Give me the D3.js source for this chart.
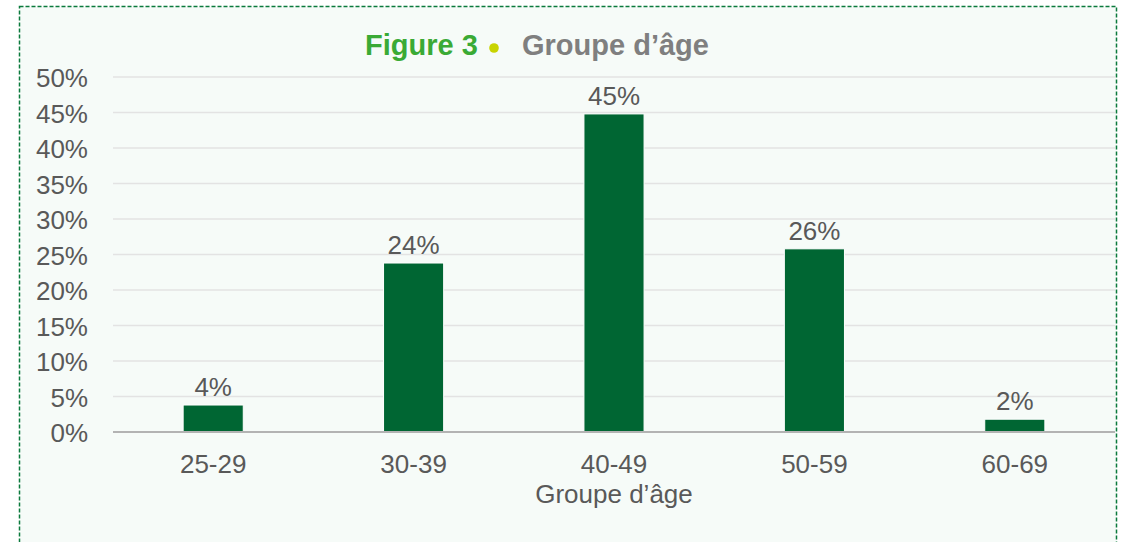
<!DOCTYPE html>
<html><head><meta charset="utf-8">
<script src="https://cdn.jsdelivr.net/npm/d3@7"></script>
<style>
html,body{margin:0;padding:0;background:#fff;}
svg{display:block;font-family:"Liberation Sans",Arial,sans-serif;}
</style></head>
<body>
<svg id="chart" width="1125" height="542"></svg>
<script>
const categories = ["25-29","30-39","40-49","50-59","60-69"];
const values = [3.8, 23.8, 44.8, 25.8, 1.8];
const valueLabels = ["4%","24%","45%","26%","2%"];
const yTicks = [0,5,10,15,20,25,30,35,40,45,50];
const titleParts = ["Figure 3", "Groupe d\u2019âge"];
const xAxisTitle = "Groupe d\u2019âge";

const FONT = "Liberation Sans, Arial, sans-serif";
const svg = d3.select("#chart");
// panel
svg.append("rect").attr("x",19.5).attr("y",6.5).attr("width",1097).attr("height",560)
  .attr("fill","#f6fbf8").attr("stroke","#0b7a3c").attr("stroke-width",1.5)
  .attr("stroke-dasharray","4,2");

const x = d3.scaleBand().domain(categories).range([113,1115]).paddingInner(0.7).paddingOuter(0.35);
const y = d3.scaleLinear().domain([0,50]).range([432,77]);

// gridlines
svg.append("g").selectAll("line").data(yTicks.filter(d=>d>0)).join("line")
  .attr("x1",113).attr("x2",1115).attr("y1",d=>y(d)).attr("y2",d=>y(d))
  .attr("stroke","#e3e3e3").attr("stroke-width",1.5);

// y axis labels
const yAxis = d3.axisLeft(y).tickValues(yTicks).tickFormat(d=>d+"%").tickSize(0).tickPadding(25);
const yg = svg.append("g").attr("transform","translate(113,0)").call(yAxis);
yg.select(".domain").remove();
yg.attr("font-size",null).attr("font-family",null);
yg.selectAll("text").attr("font-size",26).attr("fill","#595959").attr("font-family",FONT)
  .attr("dy",null).attr("dominant-baseline",null).attr("transform","translate(0,9.5)");

// bars
svg.append("g").selectAll("rect").data(values).join("rect")
  .attr("x",(d,i)=>x(categories[i])).attr("width",x.bandwidth())
  .attr("y",d=>y(d)).attr("height",d=>y(0)-y(d))
  .attr("fill","#006633").attr("stroke","#ffffff").attr("stroke-width",1);

// value labels
svg.append("g").selectAll("text").data(values).join("text")
  .attr("x",(d,i)=>x(categories[i])+x.bandwidth()/2).attr("y",d=>y(d)-9)
  .attr("text-anchor","middle").attr("font-size",26).attr("fill","#595959")
  .text((d,i)=>valueLabels[i]);

// x axis
const xAxis = d3.axisBottom(x).tickSize(0).tickPadding(0);
const xg = svg.append("g").attr("transform","translate(0,432)").call(xAxis);
xg.attr("font-size",null).attr("font-family",null);
xg.select(".domain").attr("stroke","#b3b3b3").attr("stroke-width",2).attr("d","M113,0H1115");
xg.selectAll("text").attr("font-size",26).attr("fill","#595959").attr("font-family",FONT)
  .attr("dy",null).attr("y",41);

svg.append("text").attr("x",614).attr("y",503).attr("text-anchor","middle")
  .attr("font-size",26).attr("fill","#595959").text(xAxisTitle);

// title
svg.append("text").attr("x",365).attr("y",55).attr("font-size",29).attr("font-weight","bold")
  .attr("fill","#3aaa35").text(titleParts[0]);
svg.append("circle").attr("cx",494).attr("cy",48).attr("r",4.8).attr("fill","#c8d400");
svg.append("text").attr("x",522).attr("y",55).attr("font-size",29).attr("font-weight","bold")
  .attr("fill","#7f7f7f").text(titleParts[1]);
</script>
</body></html>
